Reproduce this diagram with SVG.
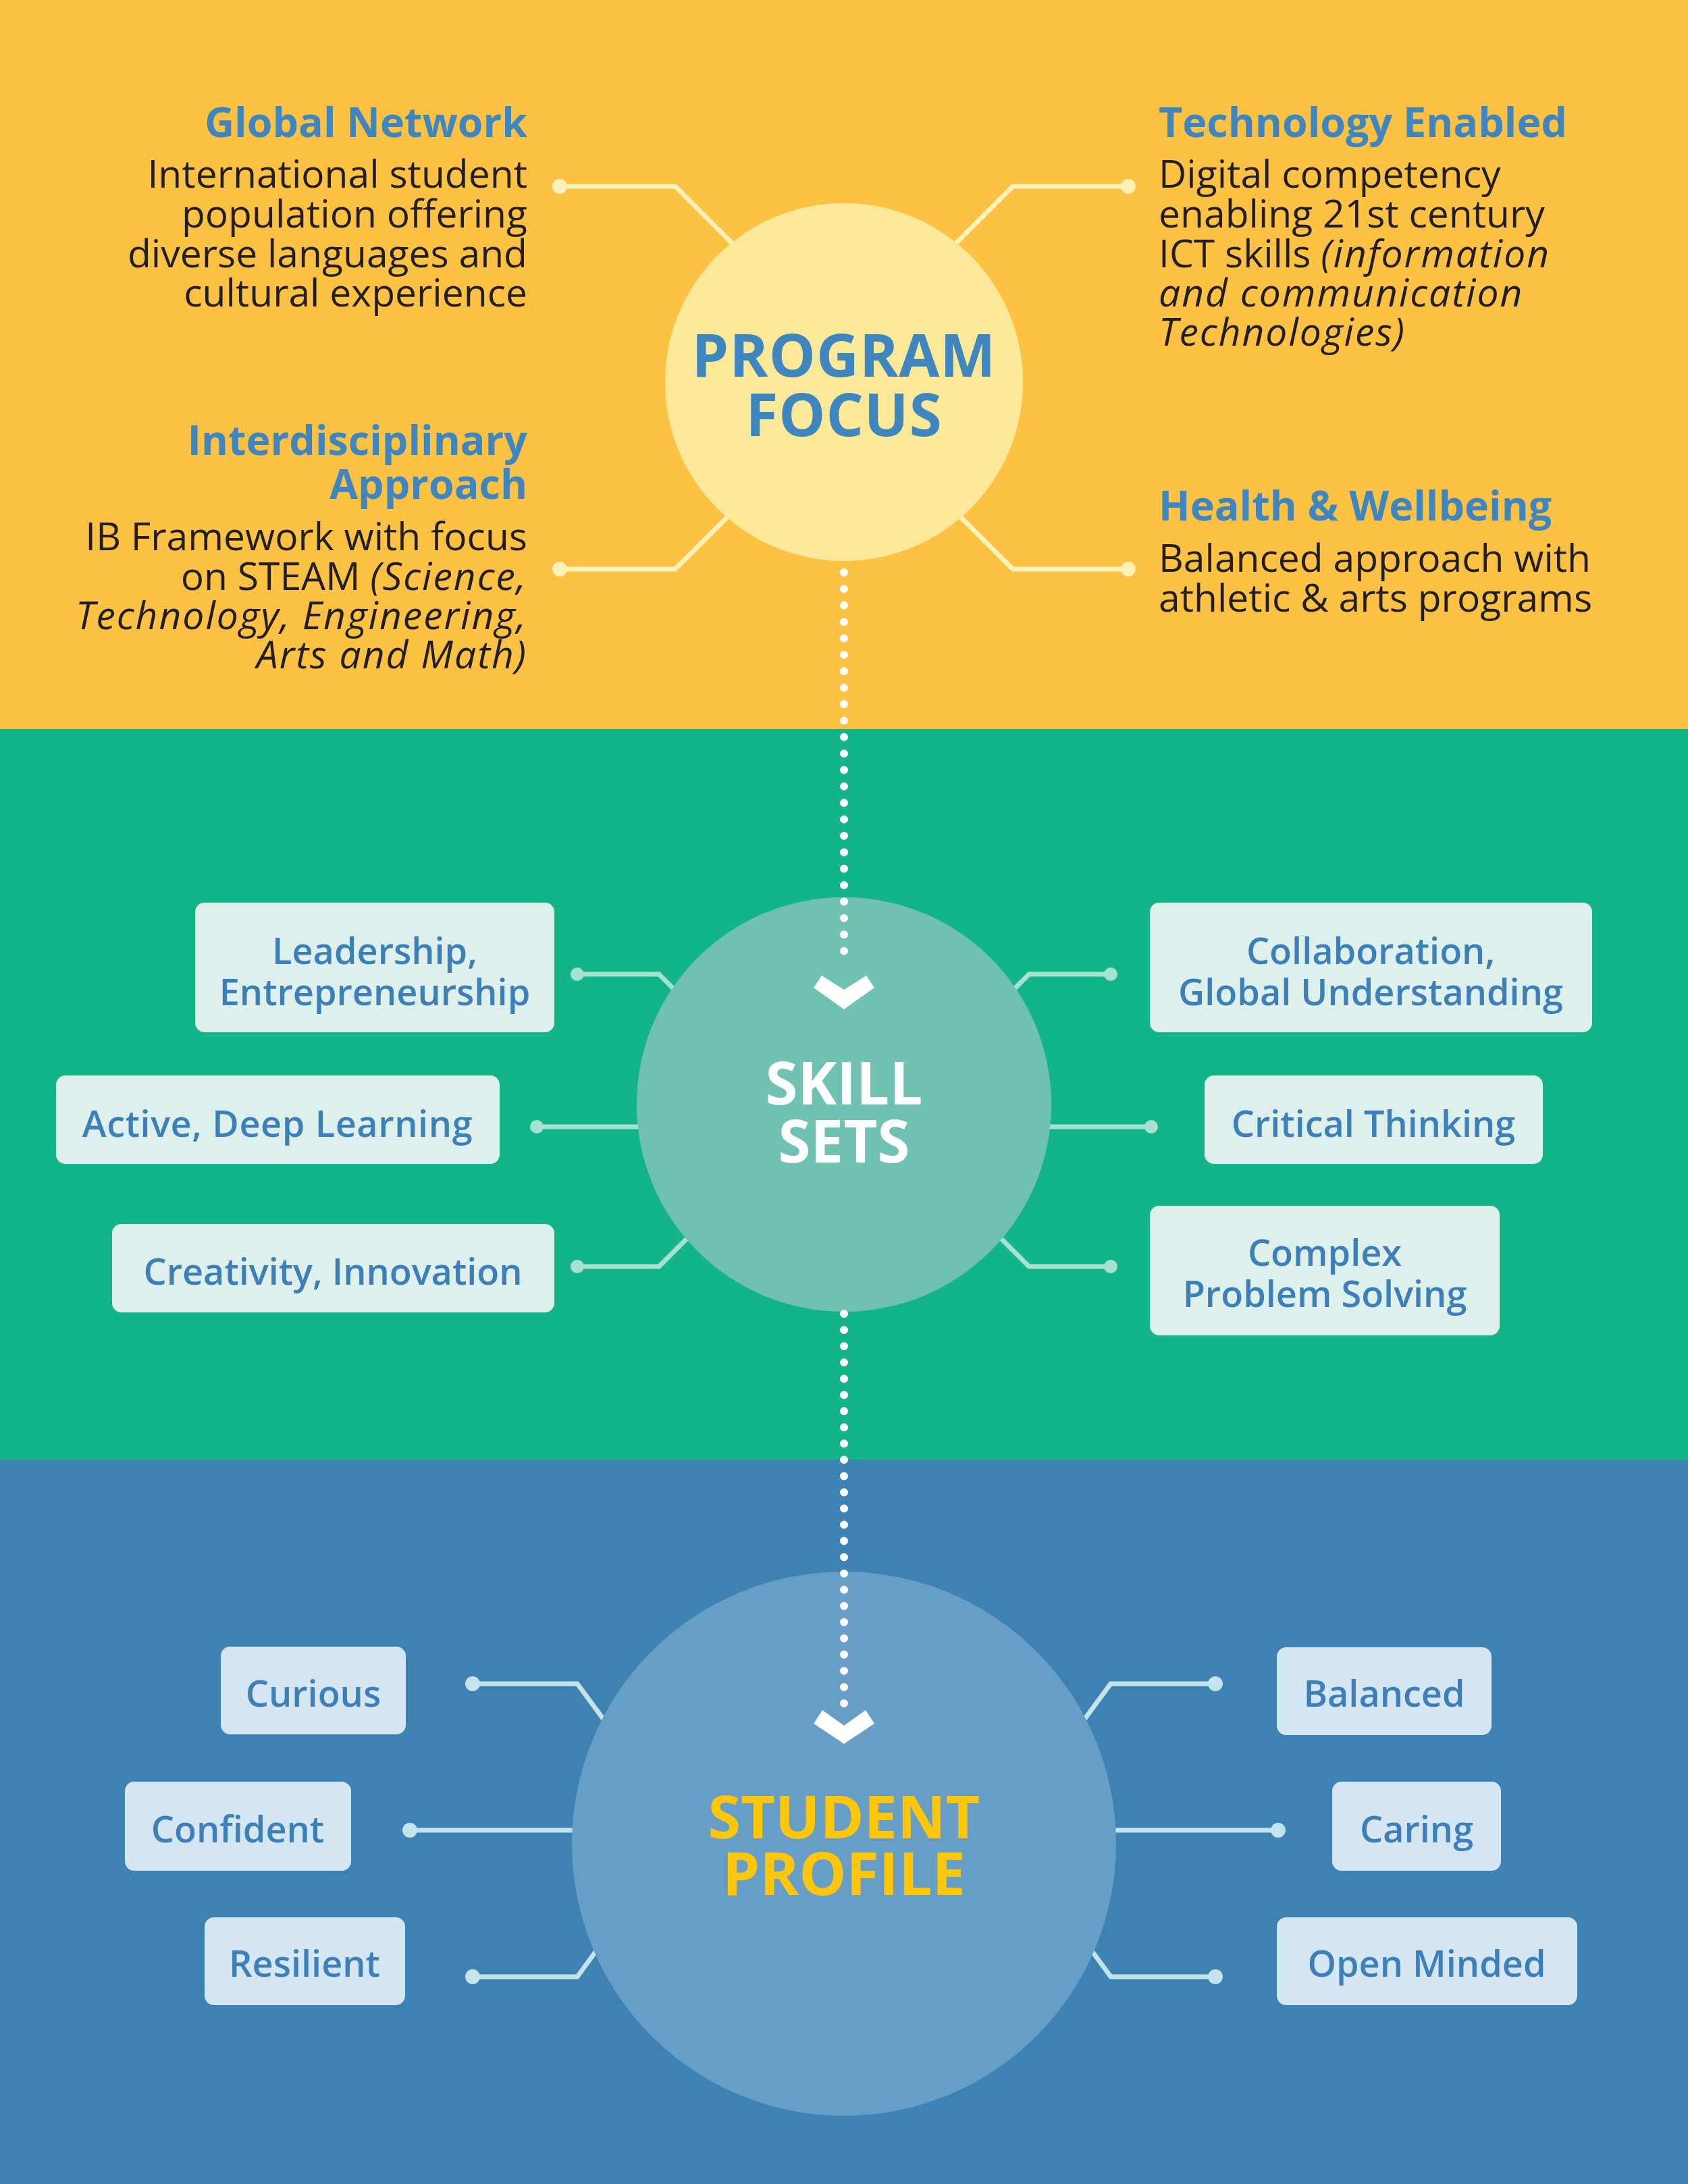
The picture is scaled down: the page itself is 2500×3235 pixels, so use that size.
<svg xmlns="http://www.w3.org/2000/svg" width="2500" height="3235" viewBox="0 0 2500 3235">
<style>
.body{font-family:"Open Sans","Liberation Sans",sans-serif;font-size:57px;fill:#231f20}
.ttl{font-family:"Open Sans","Liberation Sans",sans-serif;font-size:61px;font-weight:700;fill:#3f86bf}
.it{font-style:italic;letter-spacing:2px}
.big{font-family:"Open Sans","Liberation Sans",sans-serif;font-weight:700;text-anchor:middle}
.box{font-family:"Open Sans","Liberation Sans",sans-serif;font-size:54px;font-weight:600;fill:#3d7fb8;text-anchor:middle}
.sbox{fill:#ddf0ec}
.pbox{fill:#d3e6f2}
.pf{stroke:#fff2b8;stroke-width:7;fill:none}
.sk{stroke:#a7e2d1;stroke-width:7;fill:none}
.sp{stroke:#c2e4ea;stroke-width:7;fill:none}
.dots{stroke:#ffffff;stroke-width:12;stroke-linecap:round;fill:none}
</style>
<rect x="0" y="0" width="2500" height="1080" fill="#fdc144"/>
<rect x="0" y="1080" width="2500" height="1082" fill="#14b48a"/>
<rect x="0" y="2162" width="2500" height="1073" fill="#3e82b3"/>
<g id="connectors">
<polyline class="pf" points="829,276 1000,276 1100,376"/>
<polyline class="pf" points="829,843 1000,843 1090,753"/>
<polyline class="pf" points="1671,276 1500,276 1400,376"/>
<polyline class="pf" points="1671,843 1500,843 1410,753"/>
<circle cx="829" cy="276" r="11" fill="#fff2b8"/>
<circle cx="829" cy="843" r="11" fill="#fff2b8"/>
<circle cx="1671" cy="276" r="11" fill="#fff2b8"/>
<circle cx="1671" cy="843" r="11" fill="#fff2b8"/>
<polyline class="sk" points="855,1443 976,1443 1010,1477"/>
<polyline class="sk" points="795,1669 960,1669"/>
<polyline class="sk" points="855,1876 976,1876 1025,1827"/>
<polyline class="sk" points="1645,1443 1524,1443 1490,1477"/>
<polyline class="sk" points="1705,1669 1540,1669"/>
<polyline class="sk" points="1645,1876 1524,1876 1475,1827"/>
<circle cx="855" cy="1443" r="10" fill="#a7e2d1"/>
<circle cx="795" cy="1669" r="10" fill="#a7e2d1"/>
<circle cx="855" cy="1876" r="10" fill="#a7e2d1"/>
<circle cx="1645" cy="1443" r="10" fill="#a7e2d1"/>
<circle cx="1705" cy="1669" r="10" fill="#a7e2d1"/>
<circle cx="1645" cy="1876" r="10" fill="#a7e2d1"/>
<polyline class="sp" points="700,2494 855,2494 900,2555"/>
<polyline class="sp" points="607,2711 870,2711"/>
<polyline class="sp" points="700,2928 855,2928 890,2880"/>
<polyline class="sp" points="1800,2494 1645,2494 1600,2555"/>
<polyline class="sp" points="1893,2711 1630,2711"/>
<polyline class="sp" points="1800,2928 1645,2928 1610,2880"/>
<circle cx="700" cy="2494" r="11" fill="#c2e4ea"/>
<circle cx="607" cy="2711" r="11" fill="#c2e4ea"/>
<circle cx="700" cy="2928" r="11" fill="#c2e4ea"/>
<circle cx="1800" cy="2494" r="11" fill="#c2e4ea"/>
<circle cx="1893" cy="2711" r="11" fill="#c2e4ea"/>
<circle cx="1800" cy="2928" r="11" fill="#c2e4ea"/>
</g>
<g id="program-focus">
<circle cx="1250" cy="566" r="265" fill="#fce899"/>
<text class="big" font-size="87" fill="#3f86bf" letter-spacing="1"><tspan x="1250" y="558">PROGRAM</tspan><tspan x="1250" y="646">FOCUS</tspan></text>
</g>
<g id="skill-sets">
<circle cx="1250" cy="1636" r="307" fill="#6fc2b2"/>
<text class="big" font-size="87" fill="#ffffff"><tspan x="1250" y="1636">SKILL</tspan><tspan x="1250" y="1722">SETS</tspan></text>
</g>
<g id="student-profile">
<circle cx="1250" cy="2731" r="403" fill="#669ec5"/>
<text class="big" font-size="88" fill="#ffc60b"><tspan x="1250" y="2723">STUDENT</tspan><tspan x="1250" y="2807">PROFILE</tspan></text>
</g>
<g id="flow-connectors">
<line class="dots" x1="1250" y1="848" x2="1250" y2="1433" stroke-dasharray="0 24.375"/>
<polygon fill="#ffffff" points="1217,1445 1250,1466 1283,1445 1295,1463 1250,1495 1205,1463"/>
<line class="dots" x1="1250" y1="1946" x2="1250" y2="2523" stroke-dasharray="0 24.04"/>
<polygon fill="#ffffff" points="1218,2533 1250,2556 1282,2533 1295,2553 1250,2583 1205,2553"/>
</g>
<g id="global-network">
<text class="ttl" x="781" y="203" text-anchor="end">Global Network</text>
<text class="body" text-anchor="end"><tspan x="781" y="278">International student</tspan><tspan x="781" y="337">population offering</tspan><tspan x="781" y="396">diverse languages and</tspan><tspan x="781" y="454">cultural experience</tspan></text>
</g>
<g id="interdisciplinary-approach">
<text class="ttl" text-anchor="end"><tspan x="781" y="674">Interdisciplinary</tspan><tspan x="781" y="739">Approach</tspan></text>
<text class="body" text-anchor="end"><tspan x="781" y="815">IB Framework with focus</tspan><tspan x="781" y="874">on STEAM <tspan class="it">(Science,</tspan></tspan><tspan x="781" y="932" class="it">Technology, Engineering,</tspan><tspan x="781" y="990" class="it">Arts and Math)</tspan></text>
</g>
<g id="technology-enabled">
<text class="ttl" x="1716" y="203">Technology Enabled</text>
<text class="body"><tspan x="1716" y="278">Digital competency</tspan><tspan x="1716" y="337">enabling 21st century</tspan><tspan x="1716" y="396">ICT skills <tspan class="it">(information</tspan></tspan><tspan x="1716" y="454" class="it">and communication</tspan><tspan x="1716" y="512" class="it">Technologies)</tspan></text>
</g>
<g id="health-wellbeing">
<text class="ttl" x="1716" y="771">Health &amp; Wellbeing</text>
<text class="body"><tspan x="1716" y="847">Balanced approach with</tspan><tspan x="1716" y="906">athletic &amp; arts programs</tspan></text>
</g>
<g id="leadership">
<rect class="sbox" x="289" y="1337" width="532" height="192" rx="14"/>
<text class="box"><tspan x="555" y="1428">Leadership,</tspan><tspan x="555" y="1489">Entrepreneurship</tspan></text>
</g>
<g id="active-learning">
<rect class="sbox" x="83" y="1593" width="657" height="131" rx="14"/>
<text class="box" x="411" y="1684" letter-spacing="0.6">Active, Deep Learning</text>
</g>
<g id="creativity">
<rect class="sbox" x="166" y="1813" width="655" height="131" rx="14"/>
<text class="box" x="493" y="1903">Creativity, Innovation</text>
</g>
<g id="collaboration">
<rect class="sbox" x="1703" y="1337" width="655" height="192" rx="14"/>
<text class="box"><tspan x="2030" y="1428">Collaboration,</tspan><tspan x="2030" y="1489">Global Understanding</tspan></text>
</g>
<g id="critical-thinking">
<rect class="sbox" x="1784" y="1593" width="501" height="131" rx="14"/>
<text class="box" x="2034" y="1684">Critical Thinking</text>
</g>
<g id="complex-problem-solving">
<rect class="sbox" x="1703" y="1786" width="518" height="192" rx="14"/>
<text class="box"><tspan x="1962" y="1875">Complex</tspan><tspan x="1962" y="1936">Problem Solving</tspan></text>
</g>
<g id="curious">
<rect class="pbox" x="327" y="2439" width="274" height="130" rx="14"/>
<text class="box" x="464" y="2528">Curious</text>
</g>
<g id="confident">
<rect class="pbox" x="185" y="2639" width="335" height="132" rx="14"/>
<text class="box" x="352" y="2729">Confident</text>
</g>
<g id="resilient">
<rect class="pbox" x="303" y="2840" width="297" height="130" rx="14"/>
<text class="box" x="451" y="2928">Resilient</text>
</g>
<g id="balanced">
<rect class="pbox" x="1891" y="2440" width="318" height="130" rx="14"/>
<text class="box" x="2050" y="2528">Balanced</text>
</g>
<g id="caring">
<rect class="pbox" x="1973" y="2639" width="250" height="132" rx="14"/>
<text class="box" x="2098" y="2729">Caring</text>
</g>
<g id="open-minded">
<rect class="pbox" x="1891" y="2840" width="445" height="130" rx="14"/>
<text class="box" x="2113" y="2928">Open Minded</text>
</g>
</svg>
